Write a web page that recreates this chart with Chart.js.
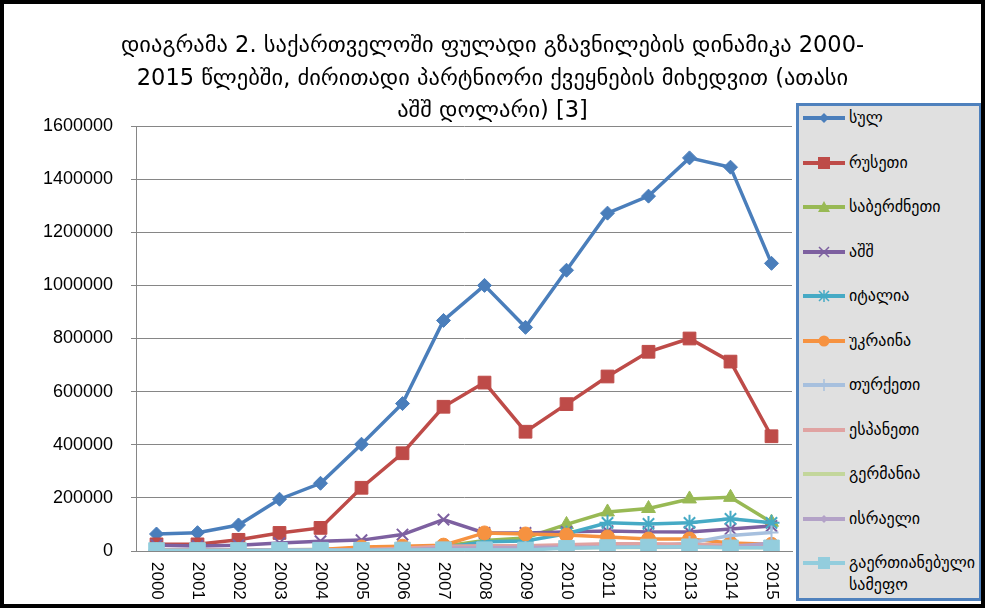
<!DOCTYPE html>
<html><head><meta charset="utf-8">
<script src="https://cdn.jsdelivr.net/npm/chart.js@4/dist/chart.umd.min.js"></script>
<style>
html,body{margin:0;padding:0;background:#fff;}
#frame{position:relative;width:985px;height:608px;box-sizing:border-box;border:4px solid #000;background:#fff;overflow:hidden;}
#c{position:absolute;left:0;top:0;}
#title{position:absolute;left:0;width:977px;top:24px;text-align:center;font-family:"DejaVu Sans",sans-serif;font-size:22.5px;line-height:32.5px;color:#000;}
#legend{position:absolute;left:792px;top:99px;width:186px;height:498px;box-sizing:border-box;border:3px solid #4f81bd;background:#e0e0e0;font-family:"DejaVu Sans",sans-serif;font-size:16px;color:#000;}
.row{position:absolute;left:4px;width:178px;display:flex;align-items:flex-start;}
.row svg{flex:none;}
.row span{margin-left:4px;line-height:22px;}
</style></head>
<body>
<div id="frame"><canvas id="c" width="977" height="600"></canvas><div id="title"></div><div id="legend"></div></div>
<script>
const years = ['2000','2001','2002','2003','2004','2005','2006','2007','2008','2009','2010','2011','2012','2013','2014','2015'];
const yTicks = [0,200000,400000,600000,800000,1000000,1200000,1400000,1600000];
const seriesNames = ['სულ','რუსეთი','საბერძნეთი','აშშ','იტალია','უკრაინა','თურქეთი','ესპანეთი','გერმანია','ისრაელი','გაერთიანებული სამეფო'];
const total   = [64000,69000,98000,195000,255000,402000,555000,868000,1000000,842000,1057000,1272000,1336000,1480000,1445000,1083000];
const russia  = [25000,25000,42000,68000,87000,238000,368000,543000,634000,449000,553000,657000,750000,800000,713000,432000];
const greece  = [3000,3000,4000,5000,6000,8000,10000,18000,40000,49000,100000,147000,160000,196000,202000,108000];
const usa     = [22000,19000,22000,30000,37000,41000,62000,118000,68000,68000,72000,75000,72000,72000,83000,94000];
const italy   = [2000,2000,3000,3000,4000,5000,7000,12000,35000,38000,65000,106000,102000,106000,121000,106000];
const ukraine = [3000,3000,4000,5000,6000,15000,18000,22000,68000,64000,60000,53000,45000,45000,30000,25000];
const turkey  = [2000,2000,2000,3000,3000,4000,5000,6000,8000,10000,12000,15000,18000,30000,58000,70000];
const spain   = [2000,2000,2000,2000,2000,5000,10000,18000,20000,20000,24000,27000,27000,25000,22000,20000];
const germany = [2000,2000,2000,3000,3000,4000,5000,8000,10000,11000,12000,13000,13000,14000,13000,12000];
const israel  = [3000,3000,3000,4000,4000,5000,6000,10000,12000,13000,14000,15000,15000,15000,16000,30000];
const uk      = [2000,2000,2000,3000,3000,3000,4000,5000,5000,4000,10000,13000,15000,16000,12000,12000];
const titleLines = ['დიაგრამა 2. საქართველოში ფულადი გზავნილების დინამიკა 2000-','2015 წლებში, ძირითადი პარტნიორი ქვეყნების მიხედვით (ათასი','აშშ დოლარი) [3]'];

const values = [total,russia,greece,usa,italy,ukraine,turkey,spain,germany,israel,uk];
const colors = ['#4a7ebb','#be4b48','#98b954','#7d60a0','#46aac5','#f69240','#a7c0de','#e0a3a2','#c3d69b','#b3a2c7','#93cddd'];
const styles = ['rectRot','rect','triangle','crossRot','star','circle','cross',false,false,'rectRot','rect'];
const radii  = [7,9,8,8,8,7,7,0,0,4,11];

document.getElementById('title').innerHTML = titleLines.map(t=>`<div>${t}</div>`).join('');

const datasets = values.map((v,i)=>({
  label: seriesNames[i], data: v,
  borderColor: colors[i], backgroundColor: colors[i],
  borderWidth: 3.5, pointStyle: styles[i] || 'circle',
  pointRadius: radii[i], pointHoverRadius: radii[i],
  pointBorderWidth: (styles[i]==='crossRot'||styles[i]==='cross'||styles[i]==='star')?2:1,
  tension: 0, order: values.length - i
}));

const xLabelPlugin = {
  id:'xlabels',
  afterDraw(chart){
    const ctx = chart.ctx, xs = chart.scales.x;
    ctx.save();
    ctx.font = '17px "Liberation Sans", Arial, sans-serif';
    ctx.fillStyle = '#000';
    ctx.textAlign = 'left'; ctx.textBaseline = 'middle';
    chart.data.labels.forEach((l,i)=>{
      const x = xs.getPixelForTick(i);
      ctx.save();
      ctx.translate(x, xs.top + 11);
      ctx.rotate(Math.PI/2);
      ctx.fillText(l, 0, 0);
      ctx.restore();
    });
    ctx.restore();
  }
};

new Chart(document.getElementById('c'), {
  type:'line',
  data:{labels: years, datasets},
  plugins:[xLabelPlugin],
  options:{
    responsive:false, animation:false, devicePixelRatio:1,
    layout:{padding:{left:0,right:189,top:122,bottom:0}},
    plugins:{ legend:{display:false}, tooltip:{enabled:false}, title:{display:false} },
    scales:{
      x:{offset:true,
        grid:{display:false},
        border:{display:true,color:'#868686',width:1},
        ticks:{display:false},
        afterFit(s){ s.height = 53; }
      },
      y:{min:0,max:1600000,
        afterBuildTicks(s){ s.ticks = yTicks.map(v=>({value:v})); },
        grid:{color:'#868686',lineWidth:1,tickLength:5,drawTicks:true},
        border:{display:true,color:'#868686',width:1},
        ticks:{color:'#000',padding:18,font:{family:'"Liberation Sans", Arial, sans-serif',size:18},
          callback:(v)=>String(v)},
        afterFit(s){ s.width = 132; }
      }
    }
  }
});

// HTML legend
const leg = document.getElementById('legend');
function markerSVG(i){
  const c = colors[i], st = styles[i], cx = 21, cy = 11;
  let m = '';
  if (st==='rectRot') { const r = i===0?5:4; m = `<polygon points="${cx},${cy-r} ${cx+r},${cy} ${cx},${cy+r} ${cx-r},${cy}" fill="${c}"/>`; }
  else if (st==='rect') { const s = 6; m = `<rect x="${cx-s}" y="${cy-s}" width="${2*s}" height="${2*s}" fill="${c}"/>`; }
  else if (st==='triangle') m = `<polygon points="${cx},${cy-6} ${cx+6},${cy+5} ${cx-6},${cy+5}" fill="${c}"/>`;
  else if (st==='crossRot') m = `<path d="M${cx-5},${cy-5}L${cx+5},${cy+5}M${cx+5},${cy-5}L${cx-5},${cy+5}" stroke="${c}" stroke-width="1.5"/>`;
  else if (st==='star') m = `<path d="M${cx-5},${cy-5}L${cx+5},${cy+5}M${cx+5},${cy-5}L${cx-5},${cy+5}M${cx},${cy-6}L${cx},${cy+6}" stroke="${c}" stroke-width="1.5"/>`;
  else if (st==='circle') m = `<circle cx="${cx}" cy="${cy}" r="5.5" fill="${c}"/>`;
  else if (st==='cross') m = `<path d="M${cx},${cy-6}L${cx},${cy+6}" stroke="${c}" stroke-width="1.5"/>`;
  return `<svg width="42" height="22"><line x1="0" y1="${cy}" x2="42" y2="${cy}" stroke="${c}" stroke-width="4"/>${m}</svg>`;
}
seriesNames.forEach((n,i)=>{
  const d = document.createElement('div');
  d.className='row';
  d.style.top = (1 + i*44.5) + 'px';
  d.innerHTML = markerSVG(i) + `<span>${n}</span>`;
  leg.appendChild(d);
});
</script>
</body></html>
